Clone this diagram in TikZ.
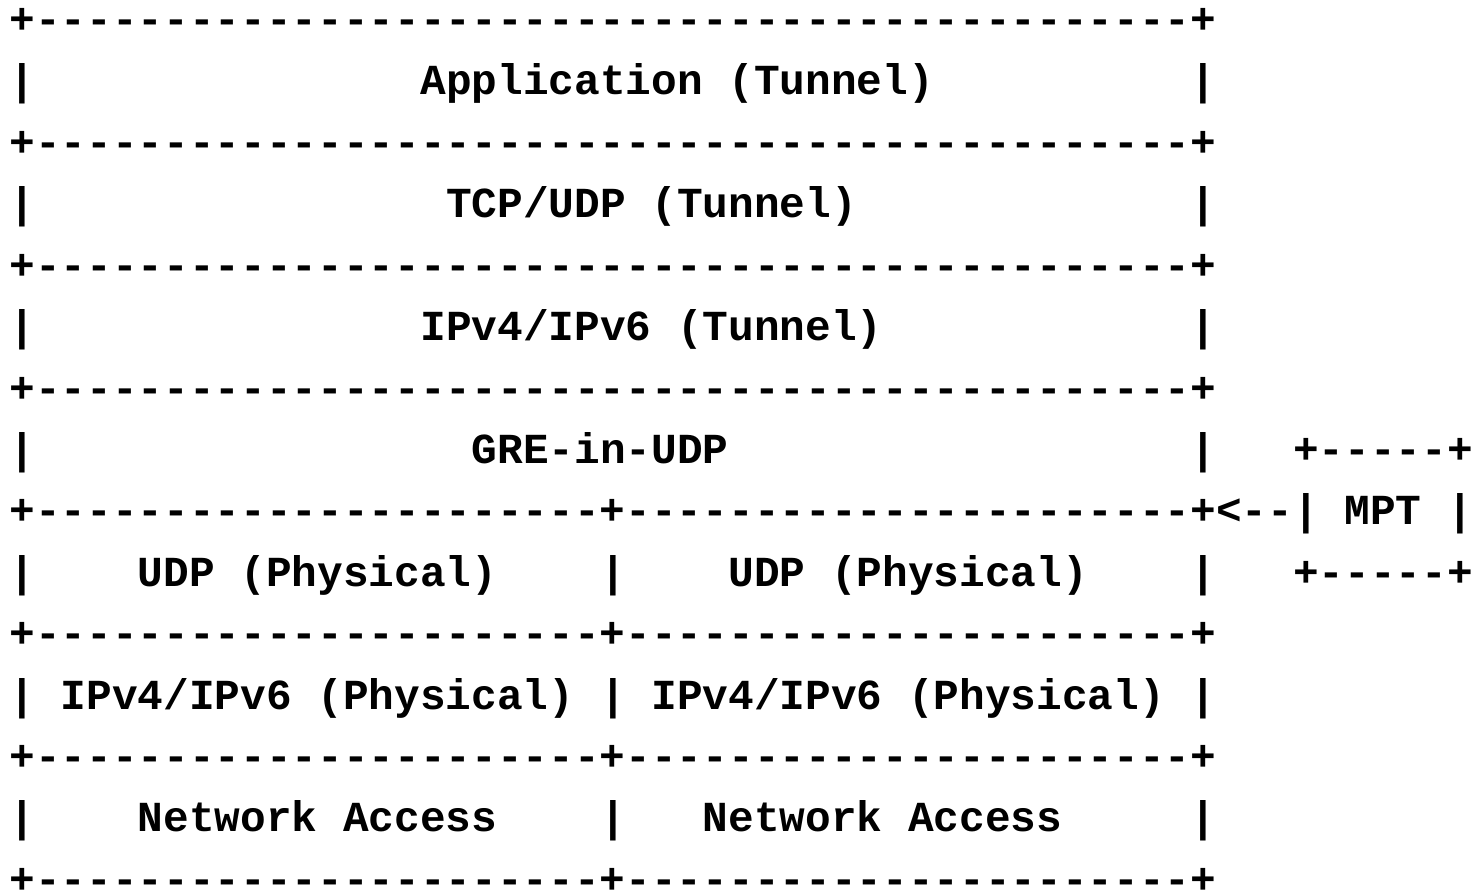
\documentclass[tikz,border=0pt]{standalone}
\usepackage{fontspec}
\setmonofont{Liberation Mono}
\usepackage{tikz}

\begin{document}
\begin{tikzpicture}[x=12.835pt,y=-30.7pt]
	\useasboundingbox (-0.358,0.453) rectangle (57.45,14.964);
	\begin{scope}[every node/.style={anchor=base west,inner sep=0pt,
				  font={\fontsize{21.39}{25}\selectfont\ttfamily\bfseries}}]
		% tunnel layers
		\node (rule1) at (0,1) {+---------------------------------------------+};
		\node (appL) at (0,2) {|};
		\node (app) at (16,2) {Application (Tunnel)};
		\node (appR) at (46,2) {|};
		\node (rule2) at (0,3) {+---------------------------------------------+};
		\node (tcpL) at (0,4) {|};
		\node (tcp) at (17,4) {TCP/UDP (Tunnel)};
		\node (tcpR) at (46,4) {|};
		\node (rule3) at (0,5) {+---------------------------------------------+};
		\node (iptL) at (0,6) {|};
		\node (ipt) at (16,6) {IPv4/IPv6 (Tunnel)};
		\node (iptR) at (46,6) {|};
		\node (rule4) at (0,7) {+---------------------------------------------+};
		\node (greL) at (0,8) {|};
		\node (gre) at (18,8) {GRE-in-UDP};
		\node (greR) at (46,8) {|};

		% MPT box on the side
		\node (mptTop) at (50,8) {+-----+};
		\node (rule5) at (0,9) {+----------------------+----------------------+<--| MPT |};
		\node (mptBot) at (50,10) {+-----+};

		% physical layers, two paths
		\node (udpL) at (0,10) {|};
		\node (udp1) at (5,10) {UDP (Physical)};
		\node (udpM) at (23,10) {|};
		\node (udp2) at (28,10) {UDP (Physical)};
		\node (udpR) at (46,10) {|};
		\node (rule6) at (0,11) {+----------------------+----------------------+};
		\node (ippL) at (0,12) {|};
		\node (ipp1) at (2,12) {IPv4/IPv6 (Physical)};
		\node (ippM) at (23,12) {|};
		\node (ipp2) at (25,12) {IPv4/IPv6 (Physical)};
		\node (ippR) at (46,12) {|};
		\node (rule7) at (0,13) {+----------------------+----------------------+};
		\node (accL) at (0,14) {|};
		\node (acc1) at (5,14) {Network Access};
		\node (accM) at (23,14) {|};
		\node (acc2) at (27,14) {Network Access};
		\node (accR) at (46,14) {|};
		\node (rule8) at (0,15) {+----------------------+----------------------+};
	\end{scope}
\end{tikzpicture}
\end{document}
